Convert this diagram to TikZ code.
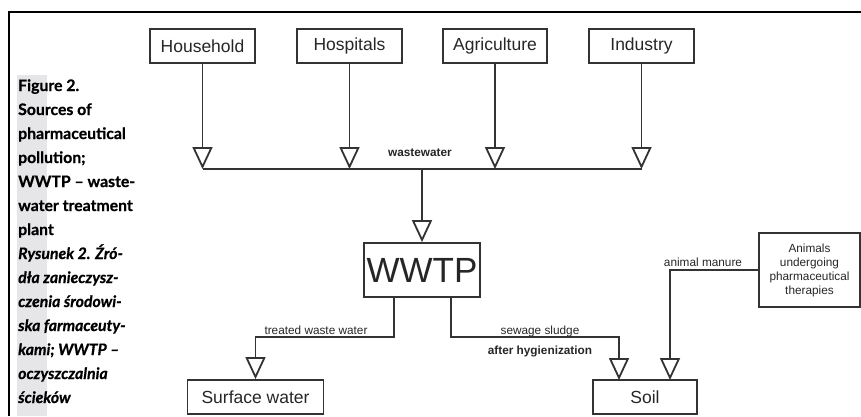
\documentclass[tikz,border=0pt]{standalone}
\usepackage{fontspec}
\setmainfont{Liberation Sans}
\newfontfamily\capfont{Lato}[BoldFeatures={FakeBold=0.7},BoldItalicFeatures={FakeBold=0.7}]
\usetikzlibrary{arrows.meta}
\definecolor{linegray}{HTML}{333333}
\definecolor{bargray}{HTML}{E6E6E9}

\begin{document}
\begin{tikzpicture}[x=1pt,y=-1pt,
  box/.style={draw=linegray,line width=1.8pt,inner sep=0pt,minimum height=34pt,
    font=\fontsize{17.5}{20}\selectfont,text=black!85},
  flow/.style={draw=linegray,line width=1.8pt,-{Triangle[open,width=20pt,length=22pt]}},
  wire/.style={draw=linegray,line width=1.8pt},
  lbl/.style={font=\fontsize{11.8}{14}\selectfont,text=black!85,inner sep=0pt},
  capb/.style={anchor=base west,inner sep=0pt,font=\capfont\bfseries\fontsize{15.8}{24}\selectfont},
  capi/.style={anchor=base west,inner sep=0pt,font=\capfont\bfseries\itshape\fontsize{15.8}{24}\selectfont}]
\useasboundingbox (0,0) rectangle (861,416);
% frame and caption bar
\fill[bargray] (17,75) rectangle (47,416);
\draw[line width=1.5pt] (861,12) -- (9,12) -- (9,416);
\node[capb] (c1) at (18,91) {Figure 2.};
\node[capb] (c2) at (18,115) {Sources of};
\node[capb] (c3) at (18,139) {pharmaceutical};
\node[capb] (c4) at (18,163) {pollution;};
\node[capb] (c5) at (18,187) {WWTP – waste-};
\node[capb] (c6) at (18,211) {water treatment};
\node[capb] (c7) at (18,235) {plant};
\node[capi] (c8) at (18,259) {Rysunek 2. Źró-};
\node[capi] (c9) at (18,283) {dła zanieczysz-};
\node[capi] (c10) at (18,307) {czenia środowi-};
\node[capi] (c11) at (18,331) {ska farmaceuty-};
\node[capi] (c12) at (18,355) {kami; WWTP –};
\node[capi] (c13) at (18,379) {oczyszczalnia};
\node[capi] (c14) at (18,403) {ścieków};
% sources
\node[box,minimum width=105pt] (household) at (202.5,46) {Household};
\node[box,minimum width=105pt] (hospitals) at (349.5,46) {Hospitals};
\node[box,minimum width=104pt] (agriculture) at (495,46) {Agriculture};
\node[box,minimum width=105pt] (industry) at (641.5,46) {Industry};
\node[box,minimum width=116pt,minimum height=54pt,font=\fontsize{35}{35}\selectfont] (wwtp) at (422,270) {WWTP};
\node[box,minimum width=136pt] (surface) at (255.5,397) {Surface water};
\node[box,minimum width=104pt] (soil) at (645,397) {Soil};
\node[box,minimum width=101pt,minimum height=74pt,align=center,font=\fontsize{11.8}{14}\selectfont] (animals) at (809.5,270) {Animals\\undergoing\\pharmaceutical\\therapies};
\coordinate (bus) at (422,169);
\coordinate (tw) at (394,337);
\coordinate (ss) at (451,337);
\coordinate (soilin) at (619,380);
\coordinate (manin) at (670,380);
% connectors
\draw[flow] (household) -- (household |- bus);
\draw[flow] (hospitals) -- (hospitals |- bus);
\draw[flow] (agriculture) -- (agriculture |- bus);
\draw[flow] (industry) -- (industry |- bus);
\draw[wire] (household |- bus) -- (industry |- bus);
\draw[flow] (bus) -- (wwtp);
\draw[flow] (wwtp.south -| tw) |- (surface |- tw) -- (surface);
\draw[flow] (wwtp.south -| ss) |- (soilin |- ss) -- (soilin);
\draw[flow] (animals.west) -| (manin);
% labels
\node[lbl] (wastewater) at (420,153) {\bfseries wastewater};
\node[lbl] (treated) at (316,330) {treated waste water};
\node[lbl] (sludge) at (540,331) {sewage sludge};
\node[lbl] (hygien) at (540,351) {\bfseries after hygienization};
\node[lbl] (manure) at (703,262) {animal manure};
\end{tikzpicture}
\end{document}
